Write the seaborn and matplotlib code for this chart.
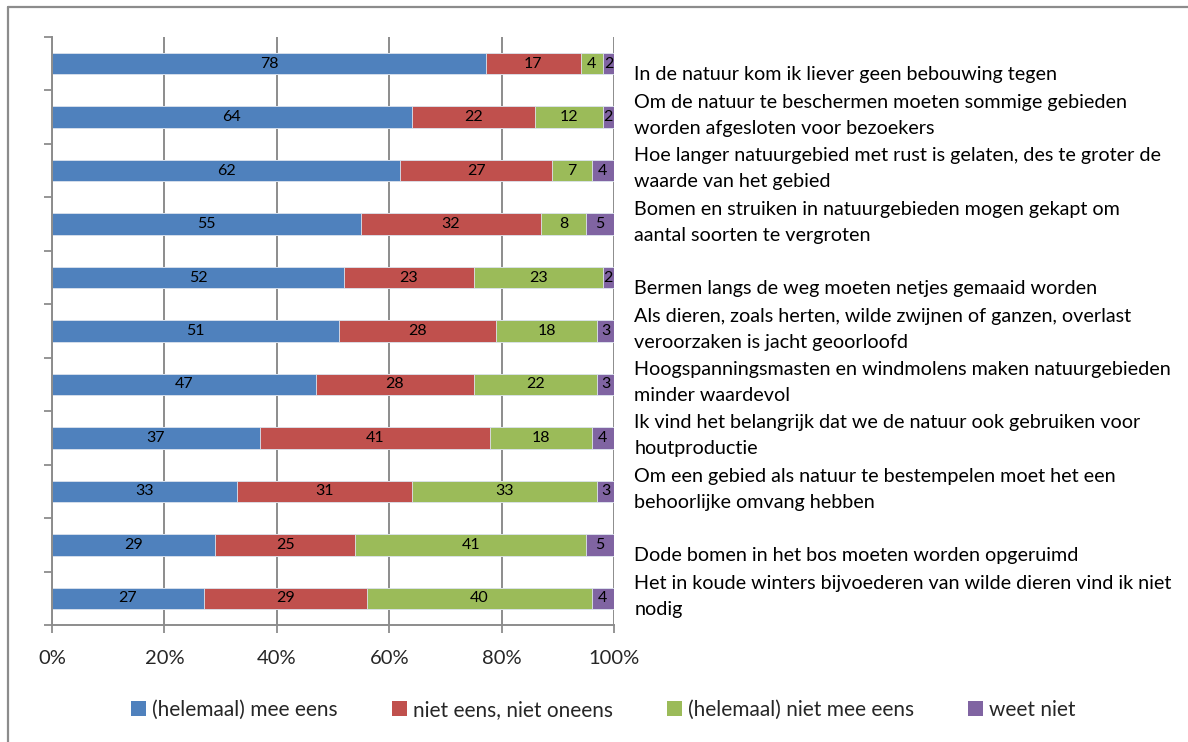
import numpy as np
import pandas as pd
import seaborn as sns
import matplotlib.pyplot as plt
from matplotlib.lines import Line2D
from matplotlib.patches import Patch
import matplotlib.transforms as mtransforms

# stellingen, van boven naar beneden
stellingen = [
    "In de natuur kom ik liever geen bebouwing tegen",
    "Om de natuur te beschermen moeten sommige gebieden\nworden afgesloten voor bezoekers",
    "Hoe langer natuurgebied met rust is gelaten, des te groter de\nwaarde van het gebied",
    "Bomen en struiken in natuurgebieden mogen gekapt om\naantal soorten te vergroten",
    "Bermen langs de weg moeten netjes gemaaid worden",
    "Als dieren, zoals herten, wilde zwijnen of ganzen, overlast\nveroorzaken is jacht geoorloofd",
    "Hoogspanningsmasten en windmolens maken natuurgebieden\nminder waardevol",
    "Ik vind het belangrijk dat we de natuur ook gebruiken voor\nhoutproductie",
    "Om een gebied als natuur te bestempelen moet het een\nbehoorlijke omvang hebben",
    "Dode bomen in het bos moeten worden opgeruimd",
    "Het in koude winters bijvoederen van wilde dieren vind ik niet\nnodig",
]
mee_eens = [78, 64, 62, 55, 52, 51, 47, 37, 33, 29, 27]
neutraal = [17, 22, 27, 32, 23, 28, 28, 41, 31, 25, 29]
niet_eens = [4, 12, 7, 8, 23, 18, 22, 18, 33, 41, 40]
weet_niet = [2, 2, 4, 5, 2, 3, 3, 4, 3, 5, 4]

reeksen = ["(helemaal) mee eens", "niet eens, niet oneens", "(helemaal) niet mee eens", "weet niet"]
kleuren = ["#4F81BD", "#C0504D", "#9BBB59", "#8064A2"]

sns.set_theme(style="white")
plt.rcParams["font.family"] = ["Lato", "DejaVu Sans"]

waarden = np.array([mee_eens, neutraal, niet_eens, weet_niet], dtype=float)
pct = waarden / waarden.sum(axis=0) * 100  # 100% gestapeld, zoals excel
cum = np.cumsum(pct, axis=0)
ids = [f"s{i}" for i in range(len(stellingen))]

fig = plt.figure(figsize=(11.88, 7.42), dpi=100)
ax = fig.add_axes([52 / 1188, 1 - 625 / 742, (614 - 52) / 1188, (625 - 37) / 742])

# overlap-truc: van de grootste cumulatieve waarde naar de kleinste tekenen
for k in range(3, -1, -1):
    df = pd.DataFrame({"id": ids, "cum": cum[k]})
    sns.barplot(data=df, x="cum", y="id", orient="h", color=kleuren[k], width=0.4,
                edgecolor="#dfe6f0", linewidth=0.6, saturation=1, ax=ax, zorder=2)

# getallen in de segmenten
for k in range(4):
    start = cum[k] - pct[k]
    for i in range(len(ids)):
        ax.text(start[i] + pct[k][i] / 2, i, f"{int(waarden[k][i])}", ha="center", va="center",
                fontsize=11.5, color="black", zorder=3)

ax.set_xlim(0, 100)
ax.set_ylim(len(ids) - 0.5, -0.5)
ax.set_xticks(np.arange(0, 101, 20))
ax.set_xticklabels([f"{v}%" for v in range(0, 101, 20)], fontsize=14.5)
ax.set_yticks(np.arange(-0.5, len(ids), 1))
ax.set_yticklabels([])
ax.set_xlabel("")
ax.set_ylabel("")
ax.grid(axis="x", color="#8c8c8c", linewidth=1.4, zorder=0)
ax.set_axisbelow(True)
for s in ["top", "right"]:
    ax.spines[s].set_visible(False)
for s in ["left", "bottom"]:
    ax.spines[s].set_color("#8c8c8c")
    ax.spines[s].set_linewidth(1.4)
ax.tick_params(axis="both", which="major", direction="out", length=6, width=1.3,
               color="#8c8c8c", left=True, bottom=True)
ax.tick_params(axis="x", pad=12)

# categorie-labels rechts van het plotgebied
trans = mtransforms.blended_transform_factory(ax.transAxes, ax.transData)
regel = 0.486
for i, lab in enumerate(stellingen):
    regels = lab.split("\n")
    n = len(regels)
    for j, r in enumerate(regels):
        y = i + 0.206 - (n - 1 - j) * regel
        ax.text(1.036, y, r, transform=trans, ha="left", va="center", fontsize=14.2,
                color="black", clip_on=False)

handles = [Patch(facecolor=c, edgecolor="none") for c in kleuren]
fig.legend(handles, reeksen, loc="center", bbox_to_anchor=(0.508, 1 - 710 / 742), ncol=4,
           frameon=False, fontsize=15, handlelength=0.7, handleheight=0.7,
           handletextpad=0.3, columnspacing=2.6)

# rand van de grafiek (alleen boven en links zichtbaar)
fig.add_artist(Line2D([8 / 1188, 8 / 1188], [0, 1 - 7 / 742], transform=fig.transFigure,
                      color="#8c8c8c", linewidth=1.6))
fig.add_artist(Line2D([8 / 1188, 1], [1 - 7 / 742, 1 - 7 / 742], transform=fig.transFigure,
                      color="#8c8c8c", linewidth=1.6))

fig.savefig("out.png", dpi=100)
